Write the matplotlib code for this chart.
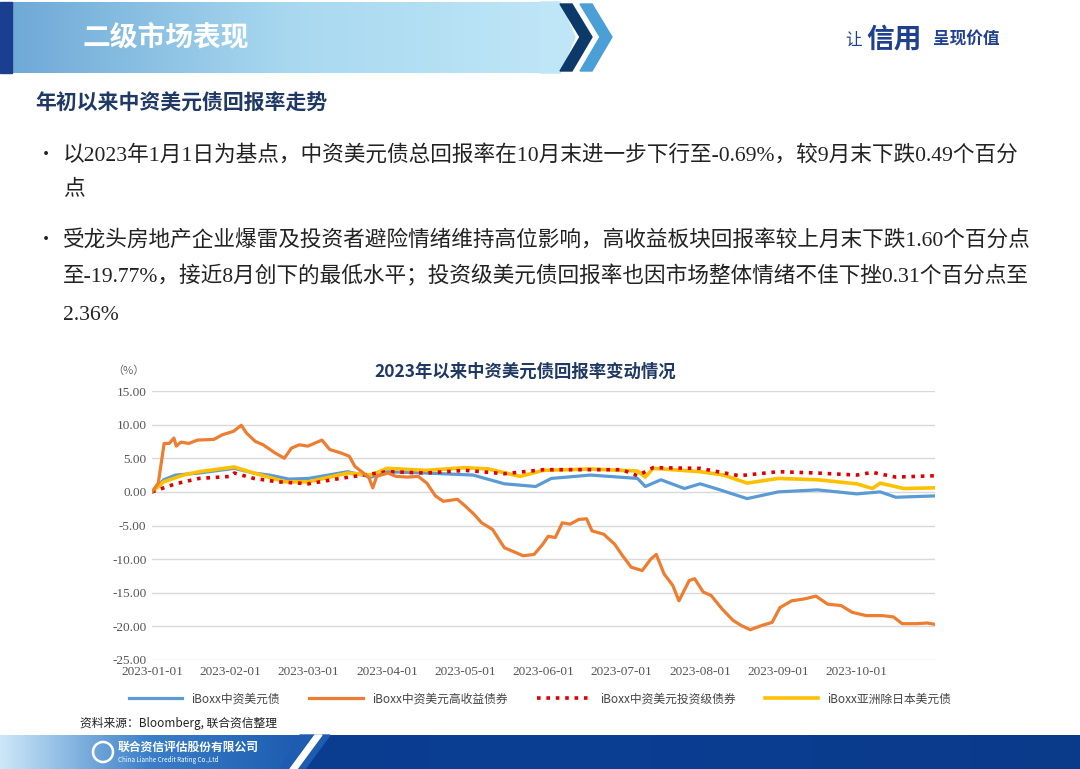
import matplotlib
matplotlib.use("Agg")
import matplotlib.pyplot as plt
import numpy as np
from matplotlib.patches import Polygon, Rectangle
from matplotlib.colors import LinearSegmentedColormap

plt.rcParams['font.family'] = ['Noto Sans CJK SC', 'DejaVu Sans']

W, H = 1080, 769
tick_labels = ["2023-01-01", "2023-02-01", "2023-03-01", "2023-04-01", "2023-05-01",
               "2023-06-01", "2023-07-01", "2023-08-01", "2023-09-01", "2023-10-01"]
# x in month units since 2023-01-01
hy_x = [0, .08, .155, .22, .28, .31, .37, .47, .58, .79, .9, 1.04, 1.14, 1.21, 1.32, 1.42, 1.57, 1.69, 1.78, 1.88,
        1.99, 2.17, 2.27, 2.41, 2.52, 2.59, 2.7, 2.77, 2.82, 2.87, 3.01, 3.12, 3.26, 3.4, 3.51, 3.62, 3.72, 3.9, 4.0,
        4.11, 4.21, 4.35, 4.5, 4.64, 4.74, 4.88, 4.99, 5.06, 5.15, 5.24, 5.34, 5.45, 5.55, 5.62, 5.77, 5.91, 6.01,
        6.12, 6.26, 6.37, 6.44, 6.54, 6.65, 6.73, 6.86, 6.93, 7.04, 7.14, 7.28, 7.42, 7.53, 7.64, 7.78, 7.92, 8.02,
        8.17, 8.34, 8.48, 8.63, 8.8, 8.94, 9.12, 9.33, 9.47, 9.58, 9.76, 9.9, 10.0]
hy_y = [0, 1.3, 7.2, 7.2, 8, 6.8, 7.4, 7.2, 7.7, 7.8, 8.5, 9, 9.9, 8.7, 7.5, 7, 5.8, 5, 6.5, 7,
        6.8, 7.7, 6.3, 5.8, 5.3, 3.8, 2.8, 2.1, 0.6, 2.3, 2.8, 2.3, 2.2, 2.3, 1.3, -0.6, -1.4, -1.1, -2.1,
        -3.3, -4.6, -5.6, -8.3, -9.0, -9.5, -9.3, -7.8, -6.6, -6.8, -4.6, -4.8, -4.1, -4.0, -5.8, -6.3, -7.8, -9.5,
        -11.2, -11.7, -10.0, -9.3, -12.2, -13.9, -16.2, -13.2, -12.9, -14.9, -15.4, -17.4, -19.1, -19.9, -20.5, -19.9, -19.4, -17.2,
        -16.2, -15.9, -15.5, -16.7, -16.9, -17.9, -18.4, -18.4, -18.6, -19.6, -19.6, -19.5, -19.7]
cn_x = [0, .15, .3, .6, 1.05, 1.3, 1.5, 1.75, 2.0, 2.5, 2.8, 3.0, 3.5, 4.1, 4.5, 4.9, 5.1, 5.6, 6.2, 6.3, 6.5,
        6.8, 7.0, 7.2, 7.6, 8.0, 8.5, 9.0, 9.3, 9.5, 10.0]
cn_y = [0, 1.8, 2.5, 2.8, 3.5, 2.8, 2.5, 1.9, 2.0, 3.0, 2.2, 3.0, 2.8, 2.5, 1.2, 0.8, 2.0, 2.5, 2.0, 0.8, 1.8,
        0.5, 1.2, 0.5, -1.0, 0.0, 0.3, -0.3, 0.0, -0.8, -0.6]
ig_x = [0, .15, .3, .6, 1.0, 1.05, 1.3, 1.6, 2.0, 2.4, 2.7, 3.0, 3.5, 4.0, 4.5, 5.0, 6.0, 6.2, 6.4, 7.0, 7.5,
        8.0, 8.5, 9.0, 9.2, 9.5, 10.0]
ig_y = [0, .6, 1.2, 2.0, 2.3, 2.8, 2.0, 1.5, 1.2, 2.0, 2.5, 3.0, 2.8, 3.2, 2.7, 3.3, 3.3, 2.4, 3.6, 3.5, 2.4,
        3.0, 2.8, 2.5, 2.9, 2.2, 2.4]
as_x = [0, .15, .4, .6, 1.05, 1.3, 1.7, 2.0, 2.5, 2.8, 3.0, 3.5, 4.0, 4.3, 4.7, 5.0, 5.6, 6.2, 6.3, 6.4, 7.0,
        7.3, 7.6, 8.0, 8.5, 9.0, 9.2, 9.3, 9.6, 10.0]
as_y = [0, 1.5, 2.5, 3.0, 3.7, 2.8, 1.5, 1.5, 2.8, 2.5, 3.5, 3.2, 3.6, 3.4, 2.3, 3.2, 3.4, 3.1, 2.2, 3.5, 3.0,
        2.5, 1.3, 2.0, 1.8, 1.2, 0.5, 1.3, 0.5, 0.6]
series_names = ["iBoxx中资美元债", "iBoxx中资美元高收益债券", "iBoxx中资美元投资级债券", "iBoxx亚洲除日本美元债"]

SERIF = ['Liberation Serif', 'Noto Sans CJK SC', 'DejaVu Sans']

fig = plt.figure(figsize=(W / 100, H / 100), dpi=100)
bg = fig.add_axes([0, 0, 1, 1])
bg.set_xlim(0, W); bg.set_ylim(H, 0); bg.axis('off')

grad = np.linspace(0, 1, 256).reshape(1, -1)
cm = LinearSegmentedColormap.from_list('h', ['#6fa9d6', '#a8d8f0', '#bfe6f7'])
bg.imshow(grad, extent=(12, 560, 73, 2), cmap=cm, aspect='auto', zorder=1)
bg.add_patch(Polygon([[540, 2], [560, 2], [575, 37], [560, 73], [540, 73]], closed=True, color='#bfe6f7', zorder=1))
bg.add_patch(Rectangle((0, 2), 12, 71, color='#1a3f8f', zorder=2))
bg.add_patch(Polygon([[560, 4], [572, 4], [592, 37], [572, 71], [560, 71], [580, 37]], color='#0b3a6a', zorder=2))
bg.add_patch(Polygon([[580, 4], [592, 4], [612, 37], [592, 71], [580, 71], [600, 37]], color='#4a9fd6', zorder=2))
bg.text(83, 37, "二级市场表现", color='white', fontsize=20, fontweight='bold', va='center', zorder=3)
bg.text(845, 40, "让", color='#1f3f8f', fontsize=12, va='center')
bg.text(866, 40, "信用", color='#1f3f8f', fontsize=20, va='center', style='italic', fontweight='bold')
bg.text(933, 40, "呈现价值", color='#1f3f8f', fontsize=12, va='center', fontweight='bold')

bg.text(35, 103, "年初以来中资美元债回报率走势", color='#1f3864', fontsize=15, fontweight='bold', va='center')
body = [(155, "•", "以2023年1月1日为基点，中资美元债总回报率在10月末进一步下行至-0.69%，较9月末下跌0.49个百分"),
        (190, "", "点"),
        (240, "•", "受龙头房地产企业爆雷及投资者避险情绪维持高位影响，高收益板块回报率较上月末下跌1.60个百分点"),
        (276, "", "至-19.77%，接近8月创下的最低水平；投资级美元债回报率也因市场整体情绪不佳下挫0.31个百分点至"),
        (315, "", "2.36%")]
for y, b, t in body:
    if b:
        bg.text(37, y, b, fontsize=13, va='center', color='#222222')
    bg.text(63, y, t, fontsize=15.6, va='center', color='#222222', family=SERIF)

bg.text(525, 372, "2023年以来中资美元债回报率变动情况", color='#1f3864', fontsize=12.5, fontweight='bold',
        ha='center', va='center')
bg.text(128, 371, "（%）", fontsize=8, color='#666666', ha='center', va='center')

# footer
bg.text(80, 723, "资料来源：Bloomberg, 联合资信整理", fontsize=8.5, style='italic', va='center', color='#222222')
cmf = LinearSegmentedColormap.from_list('f', ['#0a3a8a', '#0b3f94', '#0a3a8a'])
bg.imshow(grad, extent=(0, W, 769, 735), cmap=cmf, aspect='auto', zorder=1)
cmf2 = LinearSegmentedColormap.from_list('f2', ['#cde8f8', '#3a7fc8', '#1d5cb0'])
bg.imshow(grad, extent=(0, 300, 769, 735), cmap=cmf2, aspect='auto', zorder=2)
bg.add_patch(Polygon([[300, 735], [330, 735], [305, 769], [280, 769]], closed=True, color='#1d5cb0', zorder=2))
bg.add_patch(Polygon([[315, 735], [322, 735], [297, 769], [290, 769]], closed=True, color='white', zorder=3))
bg.add_patch(plt.Circle((103, 752), 10, fill=False, ec='white', lw=1.8, zorder=4))
bg.text(118, 747, "联合资信评估股份有限公司", color='white', fontsize=8.5, fontweight='bold', va='center', zorder=4)
bg.text(118, 760, "China Lianhe Credit Rating Co.,Ltd", color='white', fontsize=4.5, va='center', zorder=4)

# chart
x0, x1 = 152, 935
yt, yb = 391, 660
ax = fig.add_axes([x0 / W, 1 - yb / H, (x1 - x0) / W, (yb - yt) / H])
ax.set_xlim(0, 10.0)
ax.set_ylim(-25, 15)
ax.set_yticks(np.arange(-25, 16, 5))
ax.set_yticklabels([f"{v:.2f}" for v in np.arange(-25, 16, 5)], fontsize=9.5, color='#555555',
                   family=['Liberation Serif', 'DejaVu Serif'])
ax.set_xticks(np.arange(10))
ax.set_xticklabels(tick_labels, fontsize=9.5, color='#555555', family=['Liberation Serif', 'DejaVu Serif'])
ax.grid(axis='y', color='#d9d9d9', lw=1)
for s in ax.spines.values():
    s.set_visible(False)
ax.tick_params(length=0, pad=4)
ax.set_axisbelow(True)

l1, = ax.plot(cn_x, cn_y, color='#5b9bd5', lw=2.3, label=series_names[0])
l2, = ax.plot(hy_x, hy_y, color='#ed7d31', lw=2.3, label=series_names[1])
l3, = ax.plot(ig_x, ig_y, color='#e00000', lw=2.6, ls=(0, (1, 1.6)), label=series_names[2])
l4, = ax.plot(as_x, as_y, color='#ffc000', lw=2.6, label=series_names[3])
l1.set_zorder(3); l4.set_zorder(4); l3.set_zorder(5); l2.set_zorder(6)

fig.legend(handles=[l1, l2, l3, l4], loc='center', bbox_to_anchor=(540 / W, 1 - 699 / H), ncol=4,
           frameon=False, fontsize=8.5, handlelength=4.5, columnspacing=2.5, labelcolor='#444444')

fig.savefig("out.png", dpi=100, facecolor='white')
